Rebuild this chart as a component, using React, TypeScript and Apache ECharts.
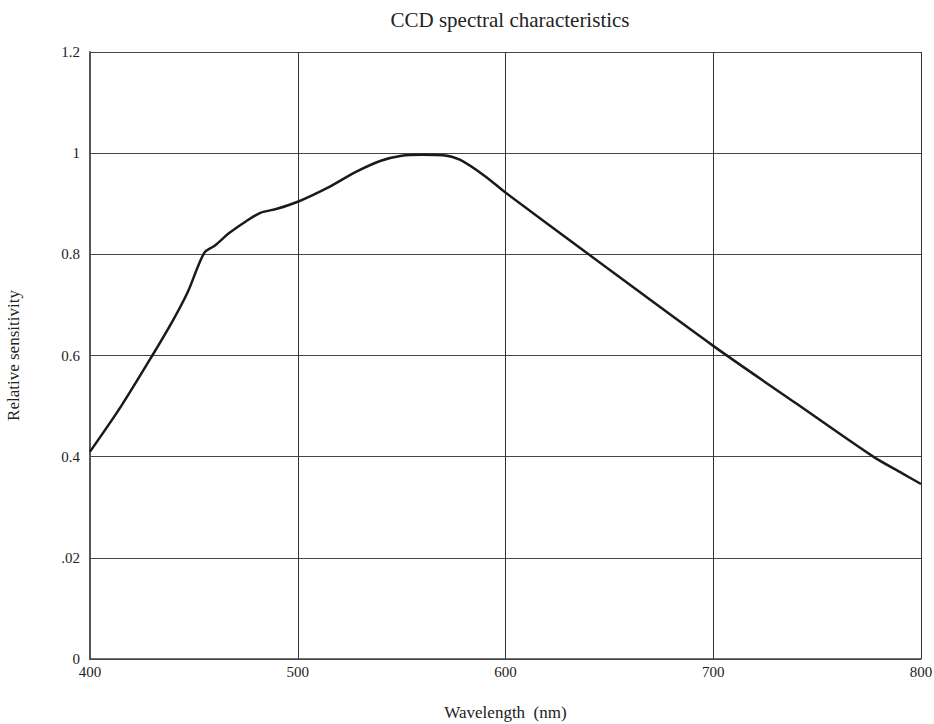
import React, { useEffect, useRef } from "react";
import * as echarts from "echarts";

const wavelengths = [400, 415, 430, 440, 447, 455, 460, 467, 475, 482, 490, 500, 515, 528, 540, 550, 560, 570, 578, 590, 600, 640, 700, 740, 777, 791, 800];
const sensitivity = [0.41, 0.5, 0.6, 0.67, 0.725, 0.803, 0.817, 0.842, 0.865, 0.882, 0.89, 0.904, 0.933, 0.963, 0.985, 0.995, 0.997, 0.996, 0.987, 0.955, 0.922, 0.8, 0.619, 0.505, 0.4, 0.367, 0.346];
const yTickValues = [0, 0.2, 0.4, 0.6, 0.8, 1, 1.2];
const yTickLabels = ["0", ".02", "0.4", "0.6", "0.8", "1", "1.2"];

export default function App() {
  const ref = useRef<HTMLDivElement>(null);
  useEffect(() => {
    const chart = echarts.init(ref.current!, undefined, { renderer: "svg" });
    const font = "'Liberation Serif', 'Times New Roman', serif";
    chart.setOption({
      animation: false,
      backgroundColor: "#ffffff",
      title: {
        text: "CCD spectral characteristics",
        left: 505,
        textAlign: "center",
        top: 4,
        textStyle: { fontFamily: font, fontSize: 21, fontWeight: "normal", color: "#222" },
      },
      grid: { left: 90, right: 13, top: 52, bottom: 65, containLabel: false, outerBoundsMode: "none" },
      xAxis: {
        type: "value",
        min: 400,
        max: 800,
        interval: 100,
        name: "Wavelength  (nm)",
        nameLocation: "middle",
        nameGap: 45,
        nameTextStyle: { fontFamily: font, fontSize: 17, color: "#222" },
        axisLine: { show: true, lineStyle: { color: "#444", width: 1.5 } },
        axisTick: { show: false },
        axisLabel: { fontFamily: font, fontSize: 15, color: "#222", margin: 5 },
        splitLine: { show: true, lineStyle: { color: "#333", width: 1 } },
      },
      yAxis: {
        type: "value",
        min: 0,
        max: 1.2,
        interval: 0.2,
        name: "Relative sensitivity",
        nameLocation: "middle",
        nameGap: 68,
        nameTextStyle: { fontFamily: font, fontSize: 17, color: "#222" },
        axisLine: { show: true, lineStyle: { color: "#555", width: 2 } },
        axisTick: { show: false },
        axisLabel: {
          fontFamily: font,
          fontSize: 15,
          color: "#222",
          margin: 10,
          formatter: (v: number) => {
            const i = yTickValues.findIndex((t) => Math.abs(t - v) < 1e-6);
            return i >= 0 ? yTickLabels[i] : "";
          },
        },
        splitLine: { show: true, lineStyle: { color: "#444", width: 1 } },
      },
      series: [
        {
          type: "line",
          data: wavelengths.map((w, i) => [w, sensitivity[i]]),
          showSymbol: false,
          smooth: 0.3,
          lineStyle: { color: "#1a1a1a", width: 2.5 },
        },
      ],
    });
    return () => chart.dispose();
  }, []);
  return <div ref={ref} style={{ position: "fixed", left: 0, top: 0, width: 934, height: 724 }} />;
}
